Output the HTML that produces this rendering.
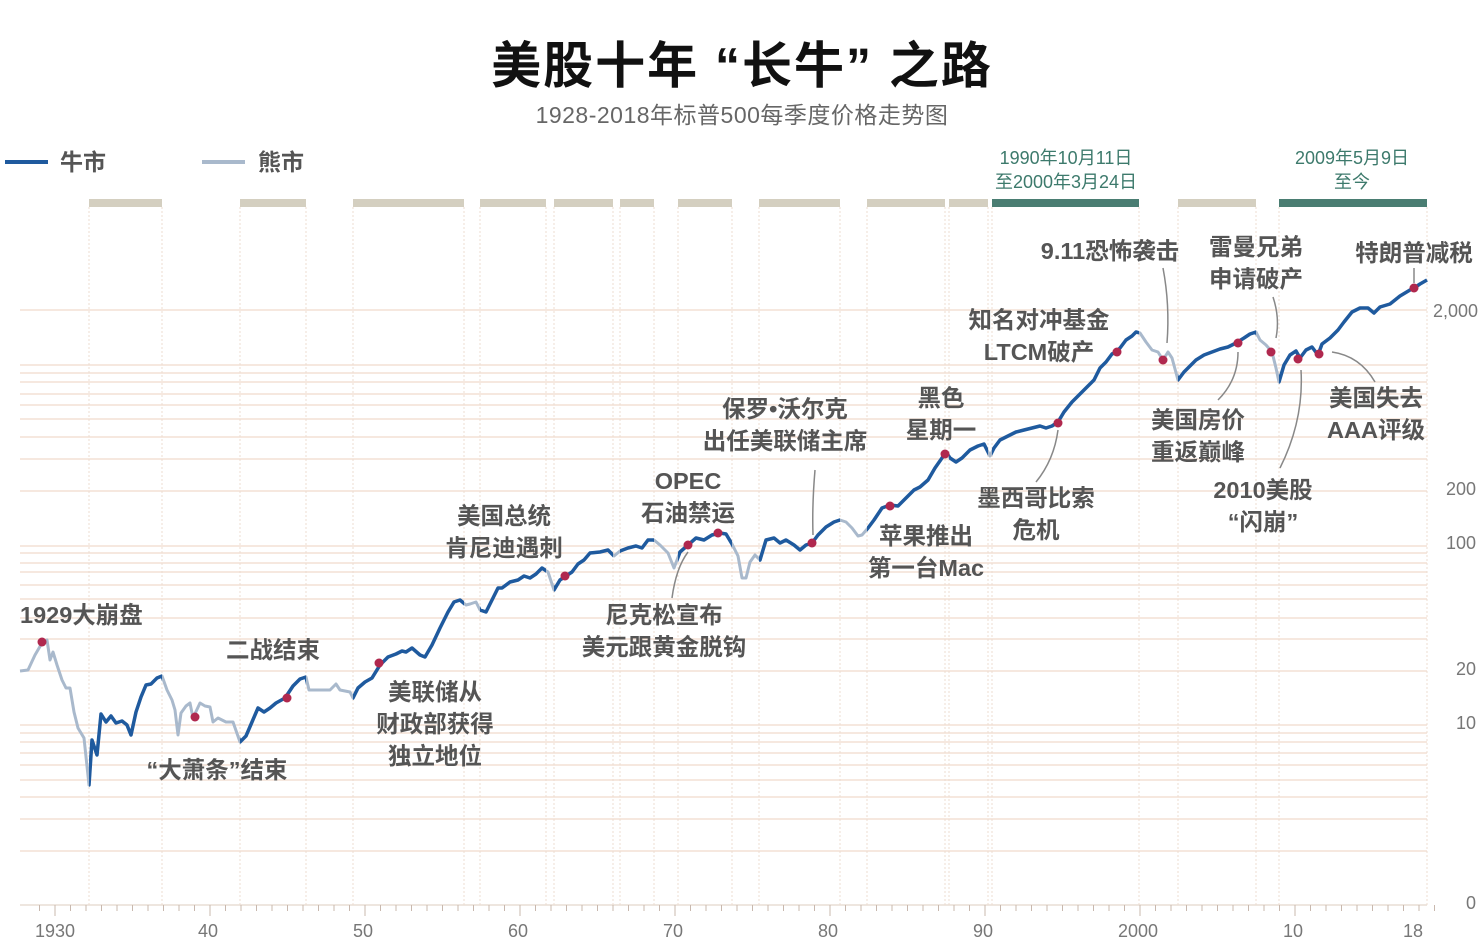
<!DOCTYPE html>
<html><head><meta charset="utf-8">
<style>
html,body{margin:0;padding:0;background:#fff;}
svg{display:block;}
text{font-family:"Liberation Sans","Noto Sans CJK SC",sans-serif;}
.a{font-size:23.5px;font-weight:bold;fill:#555;text-anchor:middle;}
.ax{font-size:18px;fill:#777;text-anchor:middle;}
.ry{font-size:18px;fill:#777;text-anchor:end;}
.g{font-size:18px;fill:#3d7a6c;text-anchor:middle;}
</style></head>
<body>
<svg id="s" width="1484" height="945" viewBox="0 0 1484 945" xmlns="http://www.w3.org/2000/svg">
<defs>
<clipPath id="bull">
<rect x="89" y="0" width="73" height="945"/><rect x="240" y="0" width="66" height="945"/>
<rect x="353" y="0" width="111" height="945"/><rect x="480" y="0" width="66" height="945"/>
<rect x="554" y="0" width="59" height="945"/><rect x="620" y="0" width="34" height="945"/>
<rect x="678" y="0" width="54" height="945"/><rect x="759" y="0" width="81" height="945"/>
<rect x="867" y="0" width="78" height="945"/><rect x="949" y="0" width="39" height="945"/>
<rect x="992" y="0" width="147" height="945"/><rect x="1178" y="0" width="78" height="945"/>
<rect x="1279" y="0" width="150" height="945"/>
</clipPath>
</defs>
<g id="grid"></g>
<g id="bars"></g>
<text x="742" y="83" style="font-size:50px;font-weight:bold;fill:#111;text-anchor:middle;letter-spacing:2px">美股十年 “长牛” 之路</text>
<text x="742" y="123" style="font-size:23px;fill:#666;text-anchor:middle;letter-spacing:0.5px">1928-2018年标普500每季度价格走势图</text>
<line x1="5" y1="162" x2="48" y2="162" stroke="#1f5a9e" stroke-width="4"/>
<text x="60" y="170" style="font-size:23px;font-weight:bold;fill:#555">牛市</text>
<line x1="202" y1="162" x2="245" y2="162" stroke="#a9b9cc" stroke-width="4"/>
<text x="258" y="170" style="font-size:23px;font-weight:bold;fill:#555">熊市</text>
<text class="g" x="1066" y="164">1990年10月11日</text>
<text class="g" x="1066" y="188">至2000年3月24日</text>
<text class="g" x="1352" y="164">2009年5月9日</text>
<text class="g" x="1352" y="188">至今</text>
<text class="ry" x="1478" y="317">2,000</text>
<text class="ry" x="1476" y="495">200</text>
<text class="ry" x="1476" y="549">100</text>
<text class="ry" x="1476" y="675">20</text>
<text class="ry" x="1476" y="729">10</text>
<text class="ry" x="1476" y="909">0</text>
<text class="ax" x="55" y="937">1930</text><text class="ax" x="208" y="937">40</text>
<text class="ax" x="363" y="937">50</text><text class="ax" x="518" y="937">60</text>
<text class="ax" x="673" y="937">70</text><text class="ax" x="828" y="937">80</text>
<text class="ax" x="983" y="937">90</text><text class="ax" x="1138" y="937">2000</text>
<text class="ax" x="1293" y="937">10</text><text class="ax" x="1413" y="937">18</text>
<g fill="none" stroke="#888" stroke-width="1.5">
<path d="M815 470 Q812 505 813 535"/><path d="M672 598 Q676 568 688 552"/>
<path d="M1036 482 Q1054 460 1058 430"/><path d="M1163 268 Q1170 305 1167 343"/>
<path d="M1273 297 Q1280 318 1276 338"/><path d="M1218 400 Q1238 380 1238 352"/>
<path d="M1280 468 Q1304 420 1301 370"/><path d="M1375 382 Q1360 356 1332 352"/>
<path d="M1414 268 L1414 283"/>
</g>
<polyline id="gray" fill="none" stroke="#a9b9cc" stroke-width="3" stroke-linejoin="round"/>
<polyline id="blue" fill="none" stroke="#1f5a9e" stroke-width="3.5" stroke-linejoin="round" clip-path="url(#bull)"/>
<g id="dots" fill="#b0284e"></g>
<text class="a" x="20" y="623" style="text-anchor:start">1929大崩盘</text>
<text class="a" x="273" y="658">二战结束</text>
<text class="a" x="217" y="778">“大萧条”结束</text>
<text class="a" x="435" y="700">美联储从</text><text class="a" x="435" y="732">财政部获得</text><text class="a" x="435" y="764">独立地位</text>
<text class="a" x="504" y="524">美国总统</text><text class="a" x="504" y="556">肯尼迪遇刺</text>
<text class="a" x="688" y="489">OPEC</text><text class="a" x="688" y="521">石油禁运</text>
<text class="a" x="664" y="623">尼克松宣布</text><text class="a" x="664" y="655">美元跟黄金脱钩</text>
<text class="a" x="785" y="417">保罗•沃尔克</text><text class="a" x="785" y="449">出任美联储主席</text>
<text class="a" x="941" y="406">黑色</text><text class="a" x="941" y="438">星期一</text>
<text class="a" x="926" y="544">苹果推出</text><text class="a" x="926" y="576">第一台Mac</text>
<text class="a" x="1036" y="506">墨西哥比索</text><text class="a" x="1036" y="538">危机</text>
<text class="a" x="1039" y="328">知名对冲基金</text><text class="a" x="1039" y="360">LTCM破产</text>
<text class="a" x="1110" y="259">9.11恐怖袭击</text>
<text class="a" x="1256" y="255">雷曼兄弟</text><text class="a" x="1256" y="287">申请破产</text>
<text class="a" x="1414" y="261">特朗普减税</text>
<text class="a" x="1198" y="428">美国房价</text><text class="a" x="1198" y="460">重返巅峰</text>
<text class="a" x="1263" y="498">2010美股</text><text class="a" x="1263" y="530">“闪崩”</text>
<text class="a" x="1376" y="406">美国失去</text><text class="a" x="1376" y="438">AAA评级</text>
</svg>
<script>
var NS="http://www.w3.org/2000/svg";
function el(p,t,a){var e=document.createElementNS(NS,t);for(var k in a)e.setAttribute(k,a[k]);p.appendChild(e);return e;}
var grid=document.getElementById('grid');
[310,365,373,382,394,405,419,437,459,491,546,553,563,572,585,599,618,639,671,725,733,742,753,765,780,797,819,851].forEach(function(y){
 el(grid,'line',{x1:20,x2:1427,y1:y,y2:y,stroke:'#f0d9cc','stroke-width':1.2});});
el(grid,'line',{x1:20,x2:1427,y1:905,y2:905,stroke:'#e4d6cc','stroke-width':1.2});
for(var yr=1929;yr<=2019;yr++){var x=55+(yr-1930)*15.5;var big=(yr%10==0);
 el(grid,'line',{x1:x,x2:x,y1:905,y2:big?916:911,stroke:'#c8b8ae','stroke-width':1});}
var bars=[[89,162],[240,306],[353,464],[480,546],[554,613],[620,654],[678,732],[759,840],[867,945],[949,988],[992,1139,1],[1178,1256],[1279,1427,1]];
var bg=document.getElementById('bars');
bars.forEach(function(b){
 el(bg,'rect',{x:b[0],y:199,width:b[1]-b[0],height:8,fill:b[2]?'#4a7d72':'#d4cfc0'});
 [b[0],b[1]].forEach(function(x){el(bg,'line',{x1:x,x2:x,y1:207,y2:905,stroke:'#ecdcd2','stroke-width':1,'stroke-dasharray':'2,2'});});
});
var pts="20,671 28,670 35,655 42,643 47,640 50,660 53,652 57,665 62,680 66,688 70,688 74,712 78,728 84,738 89,785 92,740 97,755 101,714 106,722 111,716 116,723 122,721 127,725 131,735 136,712 141,697 146,685 151,684 157,678 162,676 167,690 172,700 175,710 178,735 181,713 186,706 190,703 193,718 200,703 205,706 210,707 213,722 218,718 226,722 233,722 240,742 246,736 252,722 258,708 264,712 270,708 276,703 285,698 293,686 300,679 306,677 309,690 330,690 336,684 340,690 350,692 353,698 358,688 365,682 372,678 380,665 388,657 396,654 402,651 406,652 412,648 420,655 425,657 432,645 440,628 448,612 454,602 460,600 466,605 470,604 476,602 480,610 486,612 492,600 498,588 502,588 510,582 518,580 524,576 530,578 536,574 542,568 548,572 554,590 560,580 566,576 572,572 578,564 584,560 590,553 600,552 608,550 614,556 620,551 628,548 636,546 642,548 648,540 654,540 660,545 668,553 674,568 680,552 688,545 696,538 704,540 712,535 720,533 726,534 732,544 738,556 742,578 746,578 750,562 755,555 760,560 766,540 774,538 780,543 786,540 794,545 800,550 806,545 812,543 818,535 826,527 834,522 840,520 846,522 852,528 858,536 862,535 868,528 874,520 882,508 890,505 898,506 906,498 914,490 920,487 928,480 935,468 942,458 946,452 950,458 956,462 962,458 970,450 978,446 984,444 990,456 994,448 1000,440 1008,436 1016,432 1024,430 1032,428 1040,426 1046,428 1052,426 1058,422 1064,412 1072,402 1080,394 1088,386 1094,380 1100,368 1106,362 1112,354 1116,352 1120,348 1126,340 1132,336 1136,332 1140,333 1146,342 1152,350 1158,352 1163,360 1168,352 1172,358 1178,380 1184,372 1190,366 1196,360 1204,355 1212,352 1220,349 1228,347 1236,343 1244,338 1250,334 1256,332 1260,340 1266,345 1272,352 1276,368 1279,382 1284,365 1290,355 1296,351 1300,358 1306,350 1312,347 1318,355 1322,344 1330,338 1338,330 1344,322 1352,312 1360,308 1368,308 1374,313 1380,307 1390,304 1400,296 1410,290 1414,288 1420,284 1427,280";
document.getElementById('gray').setAttribute('points',pts);
document.getElementById('blue').setAttribute('points',pts);
var d=document.getElementById('dots');
[[42,642],[195,717],[287,698],[379,663],[565,576],[688,545],[718,533],[812,543],[890,506],[945,454],[1058,423],[1117,352],[1163,360],[1238,343],[1271,352],[1298,359],[1319,354],[1414,288]].forEach(function(p){
 el(d,'circle',{cx:p[0],cy:p[1],r:4.5});});
</script>
</body></html>
